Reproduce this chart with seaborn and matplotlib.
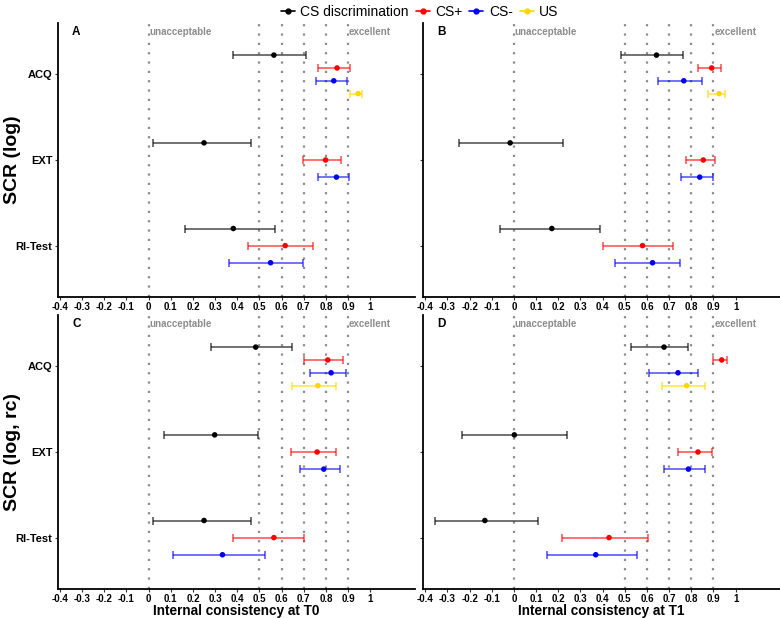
import seaborn as sns
import matplotlib
import matplotlib.pyplot as plt
from matplotlib.lines import Line2D
import numpy as np
import pandas as pd

phases = ['ACQ', 'EXT', 'RI-Test']
conditions = ['CS discrimination', 'CS+', 'CS-', 'US']
colors = {'CS discrimination': 'black', 'CS+': 'red', 'CS-': 'blue', 'US': 'gold'}

# rows: (phase, condition) in plotting order
row_phase = ['ACQ', 'ACQ', 'ACQ', 'ACQ', 'EXT', 'EXT', 'EXT', 'RI-Test', 'RI-Test', 'RI-Test']
row_cond = ['CS discrimination', 'CS+', 'CS-', 'US',
            'CS discrimination', 'CS+', 'CS-',
            'CS discrimination', 'CS+', 'CS-']

# panel A: SCR (log), T0
a_est = [0.565, 0.850, 0.835, 0.945, 0.250, 0.798, 0.847, 0.382, 0.616, 0.550]
a_lo = [0.381, 0.765, 0.753, 0.906, 0.021, 0.697, 0.762, 0.165, 0.448, 0.364]
a_hi = [0.708, 0.906, 0.895, 0.963, 0.460, 0.868, 0.903, 0.568, 0.742, 0.697]

# panel B: SCR (log), T1
b_est = [0.643, 0.892, 0.766, 0.925, -0.017, 0.854, 0.838, 0.171, 0.580, 0.625]
b_lo = [0.482, 0.830, 0.650, 0.877, -0.249, 0.775, 0.754, -0.065, 0.402, 0.456]
b_hi = [0.763, 0.932, 0.850, 0.950, 0.222, 0.907, 0.898, 0.389, 0.719, 0.749]

# panel C: SCR (log, rc), T0
c_est = [0.483, 0.808, 0.823, 0.763, 0.298, 0.760, 0.790, 0.250, 0.565, 0.333]
c_lo = [0.280, 0.702, 0.730, 0.645, 0.069, 0.640, 0.681, 0.021, 0.381, 0.108]
c_hi = [0.648, 0.877, 0.888, 0.847, 0.495, 0.847, 0.865, 0.460, 0.703, 0.525]

# panel D: SCR (log, rc), T1
d_est = [0.677, 0.937, 0.740, 0.779, 0.002, 0.830, 0.787, -0.131, 0.429, 0.369]
d_lo = [0.527, 0.899, 0.610, 0.670, -0.234, 0.740, 0.677, -0.354, 0.216, 0.150]
d_hi = [0.787, 0.962, 0.830, 0.860, 0.239, 0.892, 0.862, 0.107, 0.605, 0.554]

xticks = [-0.4, -0.3, -0.2, -0.1, 0, 0.1, 0.2, 0.3, 0.4, 0.5, 0.6, 0.7, 0.8, 0.9, 1]
xtick_labels = ['-0.4', '-0.3', '-0.2', '-0.1', '0', '0.1', '0.2', '0.3', '0.4',
                '0.5', '0.6', '0.7', '0.8', '0.9', '1']
ref_lines = [0, 0.5, 0.6, 0.7, 0.8, 0.9]

sns.set_theme(style='white')
plt.rcParams['font.family'] = ['Liberation Sans', 'DejaVu Sans']
plt.rcParams['text.color'] = 'black'
plt.rcParams['axes.labelcolor'] = 'black'
plt.rcParams['xtick.color'] = 'black'
plt.rcParams['ytick.color'] = 'black'


def make_df(est, lo, hi):
    df = pd.DataFrame({'phase': row_phase, 'cond': row_cond,
                       'est': est, 'lo': lo, 'hi': hi})
    # dodge within each phase (width 0.6), first condition on top
    ypos = []
    for ph in phases:
        sub = df[df['phase'] == ph]
        n = len(sub)
        for k in range(n):
            ypos.append(phases.index(ph) + (k - (n - 1) / 2) * 0.6 / n)
    df['y'] = ypos
    return df


def draw_panel(ax, df, letter, ylab=None, xlab=None, show_ylabels=True):
    for xv in ref_lines:
        ax.axvline(xv, color='#8c8c8c', linestyle=(0, (1, 3.2)), lw=1.6, zorder=0)
    for _, r in df.iterrows():
        ax.errorbar(r['est'], r['y'], xerr=[[r['est'] - r['lo']], [r['hi'] - r['est']]],
                    fmt='none', ecolor=colors[r['cond']], alpha=0.65, elinewidth=1.2,
                    capsize=3.2, capthick=1.2, zorder=2)
    sns.scatterplot(data=df, x='est', y='y', hue='cond', palette=colors,
                    hue_order=conditions, s=16, edgecolor='none', legend=False,
                    ax=ax, zorder=3)
    ax.set_xlim(-0.41, 1.2)
    ax.set_ylim(2.6, -0.6)
    ax.set_xticks(xticks)
    ax.set_xticklabels(xtick_labels, fontsize=7, fontweight='bold')
    ax.set_yticks(range(len(phases)))
    if show_ylabels:
        ax.set_yticklabels(phases, fontsize=8, fontweight='bold')
    else:
        ax.set_yticklabels([])
    ax.tick_params(axis='both', length=2.5, width=0.8, color='#333333', pad=1.2, left=True, bottom=True)
    for side in ['top', 'right']:
        ax.spines[side].set_visible(False)
    for side in ['left', 'bottom']:
        ax.spines[side].set_color('black')
        ax.spines[side].set_linewidth(1.3)
    ax.text(0.004, -0.49, 'unacceptable', color='#8c8c8c', fontsize=7,
            fontweight='bold', ha='left', va='center')
    ax.text(0.904, -0.49, 'excellent', color='#8c8c8c', fontsize=7,
            fontweight='bold', ha='left', va='center')
    ax.text(-0.345, -0.49, letter, color='black', fontsize=8.5,
            fontweight='bold', ha='left', va='center')
    ax.set_ylabel(ylab if ylab else '', fontsize=14, fontweight='bold')
    ax.yaxis.set_label_coords(-0.103, 0.5)
    ax.set_xlabel(xlab if xlab else '', fontsize=9.8, fontweight='bold')
    ax.xaxis.label.set_va('center')
    ax.xaxis.set_label_coords(0.5, -0.08)


fig = plt.figure(figsize=(7.8, 6.18), dpi=100)
W, H = 780, 618
pw, ph = 357, 274
axA = fig.add_axes([57.7 / W, 1 - (23 + ph) / H, pw / W, ph / H])
axB = fig.add_axes([423 / W, 1 - (23 + ph) / H, pw / W, ph / H])
axC = fig.add_axes([57.7 / W, 1 - (315 + ph) / H, pw / W, ph / H])
axD = fig.add_axes([423 / W, 1 - (315 + ph) / H, pw / W, ph / H])

draw_panel(axA, make_df(a_est, a_lo, a_hi), 'A', ylab='SCR (log)')
draw_panel(axB, make_df(b_est, b_lo, b_hi), 'B', show_ylabels=False)
draw_panel(axC, make_df(c_est, c_lo, c_hi), 'C', ylab='SCR (log, rc)',
           xlab='Internal consistency at T0')
draw_panel(axD, make_df(d_est, d_lo, d_hi), 'D', show_ylabels=False,
           xlab='Internal consistency at T1')

handles = [Line2D([0], [0], color=colors[c], marker='o', markersize=3.5, lw=1.2)
           for c in conditions]
fig.legend(handles, conditions, loc='upper center', bbox_to_anchor=(0.538, 1.012),
           ncol=4, frameon=False, fontsize=10, handlelength=1.0, handletextpad=0.4,
           columnspacing=0.5)

fig.savefig('out.png', dpi=100)
